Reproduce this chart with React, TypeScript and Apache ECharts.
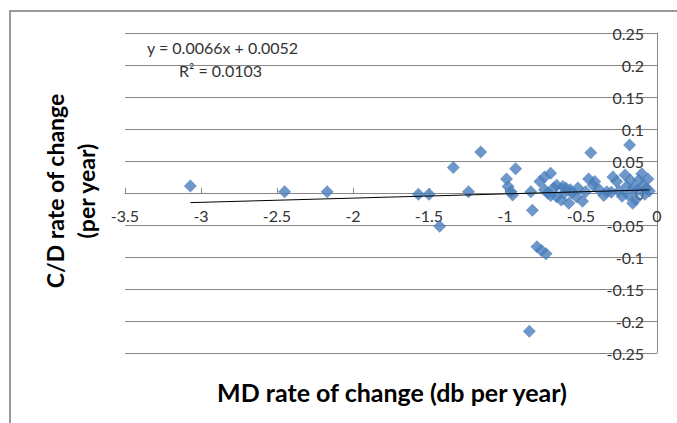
import React, { useEffect, useRef } from "react";
import * as echarts from "echarts";

const xTicks = { min: -3.5, max: 0, interval: 0.5 };
const yTicks = { min: -0.25, max: 0.25, interval: 0.05 };

const mdRate: number[] = [
  -3.07, -2.45, -2.17, -1.57, -1.5, -1.43, -1.34, -1.24, -1.16, -0.99,
  -0.98, -0.96, -0.95, -0.93, -0.83, -0.82, -0.84, -0.79, -0.76, -0.73,
  -0.74, -0.7, -0.74, -0.72, -0.7, -0.66, -0.66, -0.62, -0.63, -0.6,
  -0.58, -0.56, -0.53, -0.52, -0.49, -0.47, -0.45, -0.436, -0.42, -0.41,
  -0.38, -0.35, -0.33, -0.3, -0.29, -0.265, -0.25, -0.23, -0.21, -0.2,
  -0.19, -0.18, -0.175, -0.16, -0.155, -0.14, -0.13, -0.12, -0.1, -0.09,
  -0.08, -0.07, -0.06, -0.05, -0.57, -0.61, -0.68, -0.77,
];
const cdRate: number[] = [
  0.011, 0.002, 0.002, -0.002, -0.002, -0.052, 0.04, 0.002, 0.064, 0.022,
  0.01, 0.002, -0.003, 0.038, 0.002, -0.027, -0.216, -0.084, -0.09, -0.095,
  0.025, 0.031, 0.005, 0.0, -0.004, 0.012, -0.006, 0.01, -0.011, 0.008,
  -0.016, 0.0, -0.006, 0.008, -0.013, 0.002, 0.022, 0.063, 0.012, 0.018,
  0.005, -0.004, 0.002, 0.001, 0.025, 0.018, 0.003, -0.005, 0.028, 0.01,
  -0.003, 0.075, 0.02, -0.016, 0.008, -0.01, 0.005, 0.02, 0.03, 0.012,
  -0.002, 0.007, 0.022, 0.003, 0.005, 0.0, 0.008, 0.018,
];

const trendSlope = 0.0066;
const trendIntercept = 0.0052;
const equationText = "y = 0.0066x + 0.0052";
const r2Text = "R² = 0.0103";
const xTitle = "MD rate of change (db per year)";
const yTitleLines = ["C/D rate of change", "(per year)"];

const FONT = "Lato";

export default function App() {
  const ref = useRef<HTMLDivElement>(null);
  useEffect(() => {
    if (!ref.current) return;
    const chart = echarts.init(ref.current, null, { renderer: "svg" });
    const points = mdRate.map((x, i) => [x, cdRate[i]]);
    const xMin = Math.min(...mdRate);
    const xMax = Math.max(...mdRate);
    const trend = [
      [xMin, trendSlope * xMin + trendIntercept],
      [xMax, trendSlope * xMax + trendIntercept],
    ];
    const gridTop = 33;
    const gridBottom = 70;
    const gridH = 423 - gridTop - gridBottom;
    chart.setOption({
      animation: false,
      backgroundColor: "#ffffff",
      textStyle: { fontFamily: FONT },
      grid: { left: 125, right: 20, top: gridTop, bottom: gridBottom, containLabel: false },
      xAxis: {
        type: "value",
        position: "bottom",
        offset: -gridH / 2,
        min: xTicks.min,
        max: xTicks.max,
        interval: xTicks.interval,
        axisLine: { show: true, onZero: false, lineStyle: { color: "#868686", width: 1 } },
        axisTick: { show: true, inside: true, length: 5, lineStyle: { color: "#868686" } },
        axisLabel: { color: "#333", fontSize: 16, fontFamily: FONT, margin: 14 },
        splitLine: { show: false },
      },
      yAxis: {
        type: "value",
        position: "right",
        min: yTicks.min,
        max: yTicks.max,
        interval: yTicks.interval,
        axisLine: { show: true, onZero: false, lineStyle: { color: "#868686", width: 1 } },
        axisTick: { show: false },
        axisLabel: { color: "#333", fontSize: 16, fontFamily: FONT, margin: 13, inside: true },
        splitLine: { show: true, lineStyle: { color: "#868686", width: 1 } },
      },
      series: [
        {
          type: "scatter",
          data: points,
          symbol: "diamond",
          symbolSize: 13,
          itemStyle: { color: "#4A7EBB" },
          z: 3,
        },
        {
          type: "line",
          data: trend,
          symbol: "none",
          lineStyle: { color: "#000", width: 1 },
          z: 4,
        },
      ],
      graphic: [
        {
          type: "rect",
          shape: { x: 10, y: 11, width: 700, height: 450 },
          style: { fill: "none", stroke: "#9a9a9a", lineWidth: 2 },
          z: -1,
          silent: true,
        },
        {
          type: "text",
          x: 147,
          y: 47,
          style: { text: equationText, font: `16px ${FONT}`, fill: "#333", textVerticalAlign: "middle" },
        },
        {
          type: "text",
          x: 179,
          y: 70,
          style: { text: r2Text, font: `16px ${FONT}`, fill: "#333", textVerticalAlign: "middle" },
        },
        {
          type: "text",
          x: 392,
          y: 392,
          style: {
            text: xTitle,
            font: `bold 25px ${FONT}`,
            fill: "#000",
            textAlign: "center",
            textVerticalAlign: "middle",
          },
        },
        {
          type: "text",
          x: 55,
          y: 191,
          rotation: Math.PI / 2,
          style: {
            text: yTitleLines[0],
            font: `bold 23px ${FONT}`,
            fill: "#000",
            textAlign: "center",
            textVerticalAlign: "middle",
          },
        },
        {
          type: "text",
          x: 86,
          y: 191,
          rotation: Math.PI / 2,
          style: {
            text: yTitleLines[1],
            font: `bold 23px ${FONT}`,
            fill: "#000",
            textAlign: "center",
            textVerticalAlign: "middle",
          },
        },
      ],
    });
    return () => chart.dispose();
  }, []);
  return (
    <div
      ref={ref}
      style={{ position: "absolute", left: 0, top: 0, width: 677, height: 423, background: "#fff" }}
    />
  );
}
